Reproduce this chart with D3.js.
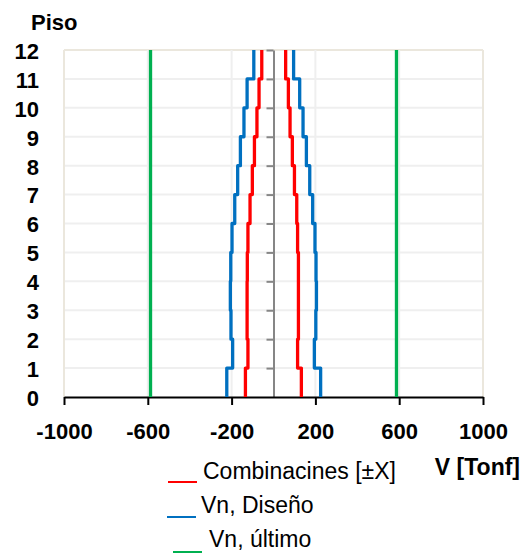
<!DOCTYPE html>
<html>
<head>
<meta charset="utf-8">
<script src="https://cdn.jsdelivr.net/npm/d3@7"></script>
<style>
  body { margin: 0; background: #fff; }
  text { font-family: 'Liberation Sans', Arial, sans-serif; }
</style>
</head>
<body>
<div id="container"></div>
<script>
const width = 522;
const height = 555;
const plot = { left: 64, right: 483, top: 50, bottom: 397 };

// floors (segment i goes from floor i to floor i+1)
const floors = [0, 1, 2, 3, 4, 5, 6, 7, 8, 9, 10, 11, 12];
const combPos = [133, 115, 119, 119, 119, 115, 111, 100, 90, 79, 71, 58];
const combNeg = [-134, -122, -126, -126, -125, -122, -112, -101, -91, -79, -69, -56];
const disenoPos = [225, 195, 202, 205, 203, 198, 187, 173, 157, 141, 125, 96];
const disenoNeg = [-223, -195, -203, -206, -204, -198, -185, -171, -158, -141, -126, -94];
const ultimo = [-587, 587];
const xTicks = [-1000, -600, -200, 200, 600, 1000];

const legendItems = [
  { name: 'Combinacines [±X]', color: '#ff0000' },
  { name: 'Vn, Diseño', color: '#0070c0' },
  { name: 'Vn, último', color: '#00b050' },
];

const svg = d3
  .select('#container')
  .append('svg')
  .attr('width', width)
  .attr('height', height);

const x = d3.scaleLinear().domain([-1000, 1000]).range([plot.left, plot.right]);
const y = d3.scaleLinear().domain([0, 12]).range([plot.bottom, plot.top]);

// grid
svg
  .append('g')
  .selectAll('line')
  .data(floors.slice(1))
  .enter()
  .append('line')
  .attr('x1', plot.left)
  .attr('x2', plot.right)
  .attr('y1', (d) => y(d))
  .attr('y2', (d) => y(d))
  .attr('stroke', (d) => (d === 12 ? '#ebe7dd' : '#efefef'))
  .attr('stroke-width', 2);

svg
  .append('g')
  .selectAll('line')
  .data(xTicks)
  .enter()
  .append('line')
  .attr('x1', (d) => x(d))
  .attr('x2', (d) => x(d))
  .attr('y1', y(0))
  .attr('y2', y(12))
  .attr('stroke', (d) => (Math.abs(d) === 1000 ? '#ebe7dd' : '#efefef'))
  .attr('stroke-width', 2);

// zero axis with small ticks to the left
const zeroAxis = svg
  .append('g')
  .attr('transform', 'translate(' + x(0) + ',0)')
  .call(d3.axisLeft(y).tickValues(floors.slice(1)).tickFormat('').tickSize(7).tickSizeOuter(0));
zeroAxis.select('.domain').attr('stroke', '#868686').attr('stroke-width', 2);
zeroAxis.selectAll('.tick line').attr('stroke', '#868686').attr('stroke-width', 2);

// y labels
const yAxis = svg
  .append('g')
  .attr('transform', 'translate(' + plot.left + ',0)')
  .call(d3.axisLeft(y).tickValues(floors).tickSize(0).tickPadding(25));
yAxis.select('.domain').remove();
yAxis
  .selectAll('text')
  .attr('font-family', "'Liberation Sans', Arial, sans-serif")
  .attr('font-size', 22)
  .attr('font-weight', 'bold')
  .attr('fill', '#000')
  .attr('dy', '0.38em');

// x axis
const xAxis = svg
  .append('g')
  .attr('transform', 'translate(0,' + y(0) + ')')
  .call(
    d3
      .axisBottom(x)
      .tickValues(xTicks)
      .tickFormat((d) => String(d))
      .tickSize(8)
      .tickSizeOuter(0)
      .tickPadding(18)
  );
xAxis.select('.domain').attr('stroke', '#000').attr('stroke-width', 2);
xAxis.selectAll('.tick line').attr('stroke', '#000').attr('stroke-width', 2);
xAxis
  .selectAll('text')
  .attr('font-family', "'Liberation Sans', Arial, sans-serif")
  .attr('font-size', 22)
  .attr('font-weight', 'bold')
  .attr('fill', '#000');

// step lines
function stepPoints(values) {
  const pts = [];
  values.forEach((v, i) => {
    pts.push([v, floors[i]]);
    pts.push([v, floors[i + 1]]);
  });
  return pts;
}

const line = d3
  .line()
  .x((d) => x(d[0]))
  .y((d) => y(d[1]));

const series = [
  { values: ultimo, color: '#00b050', step: false },
  { values: disenoNeg, color: '#0070c0', step: true },
  { values: disenoPos, color: '#0070c0', step: true },
  { values: combNeg, color: '#ff0000', step: true },
  { values: combPos, color: '#ff0000', step: true },
];

series.forEach((s) => {
  if (s.step) {
    svg
      .append('path')
      .attr('d', line(stepPoints(s.values)))
      .attr('fill', 'none')
      .attr('stroke', s.color)
      .attr('stroke-width', 3.3)
      .attr('stroke-linejoin', 'round');
  } else {
    s.values.forEach((v) => {
      svg
        .append('path')
        .attr('d', line([[v, 0], [v, 12]]))
        .attr('fill', 'none')
        .attr('stroke', s.color)
        .attr('stroke-width', 3.3);
    });
  }
});

// titles
svg
  .append('text')
  .attr('x', 31)
  .attr('y', 30)
  .attr('font-size', 22)
  .attr('font-weight', 'bold')
  .text('Piso');

svg
  .append('text')
  .attr('x', 520)
  .attr('y', 475)
  .attr('text-anchor', 'end')
  .attr('font-size', 23)
  .attr('font-weight', 'bold')
  .text('V [Tonf]');

// legend
const legendPos = [
  { lx: 168, ly: 482, tx: 203, ty: 479 },
  { lx: 167, ly: 517, tx: 201, ty: 513 },
  { lx: 173, ly: 552, tx: 209, ty: 547 },
];

const legend = svg
  .append('g')
  .selectAll('g')
  .data(legendItems)
  .enter()
  .append('g');

legend
  .append('line')
  .attr('x1', (d, i) => legendPos[i].lx)
  .attr('x2', (d, i) => legendPos[i].lx + 29)
  .attr('y1', (d, i) => legendPos[i].ly)
  .attr('y2', (d, i) => legendPos[i].ly)
  .attr('stroke', (d) => d.color)
  .attr('stroke-width', 2);

legend
  .append('text')
  .attr('x', (d, i) => legendPos[i].tx)
  .attr('y', (d, i) => legendPos[i].ty)
  .attr('font-size', 23)
  .attr('fill', '#000')
  .text((d) => d.name);
</script>
</body>
</html>
